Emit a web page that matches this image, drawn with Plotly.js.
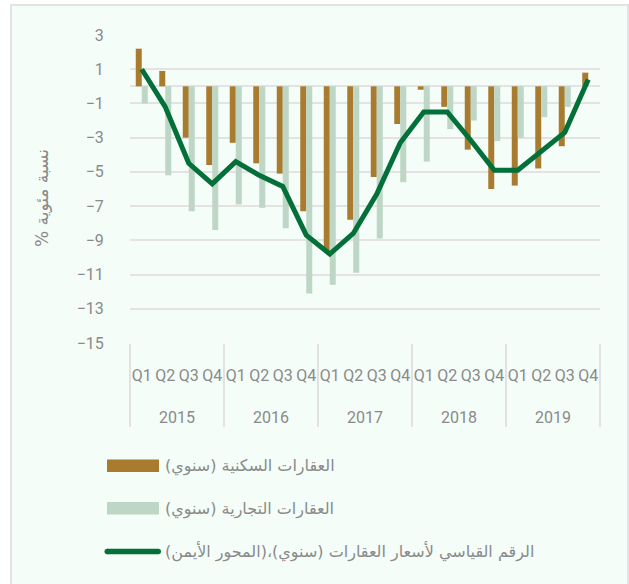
<!DOCTYPE html>
<html><head><meta charset="utf-8">
<script src="https://cdn.plot.ly/plotly-3.0.1.min.js"></script>
<style>html,body{margin:0;padding:0;background:#fff;}</style>
</head><body>
<div id="chart" style="width:629px;height:584px;"></div>
<script>
var years = ['2015','2015','2015','2015','2016','2016','2016','2016','2017','2017','2017','2017','2018','2018','2018','2018','2019','2019','2019','2019'];
var quarters = ['Q1','Q2','Q3','Q4','Q1','Q2','Q3','Q4','Q1','Q2','Q3','Q4','Q1','Q2','Q3','Q4','Q1','Q2','Q3','Q4'];
var residential = [2.2, 0.9, -3.0, -4.6, -3.3, -4.5, -5.1, -7.3, -9.6, -7.8, -5.3, -2.2, -0.2, -1.2, -3.7, -6.0, -5.8, -4.8, -3.5, 0.8];
var commercial = [-1.0, -5.2, -7.3, -8.4, -6.9, -7.1, -8.3, -12.1, -11.6, -10.9, -8.9, -5.6, -4.4, -2.5, -2.0, -3.2, -3.0, -1.8, -1.2, 0.0];
var priceIndex = [1.0, -1.2, -4.5, -5.7, -4.4, -5.2, -5.85, -8.7, -9.8, -8.6, -6.3, -3.3, -1.5, -1.5, -3.15, -4.9, -4.9, -3.8, -2.7, 0.4];
var legendLabels = ['العقارات السكنية (سنوي)', 'العقارات التجارية (سنوي)', 'الرقم القياسي لأسعار العقارات (سنوي)،(المحور الأيمن)'];
var yTitle = '% نسبة مئوية';

// quarter labels padded with empty lines so both label rows sit lower, as in the original
var quarterLabels = quarters.map(function(q){ return '\u00a0<br>' + q + '<br>\u00a0'; });

var L = 130, R = 600, T = 35, B = 343, W = 629, H = 584;
function px(x){ return (x - L) / (R - L); }
function py(y){ return (B - y) / (B - T); }

var brown = '#a87b2e', lightGreen = '#bdd6c5', darkGreen = '#03703a';
var gray = '#8a8a8a', grid = '#e4e2e2';
var font = 'Roboto, "DejaVu Sans", sans-serif';

var traces = [
  {type:'bar', name: legendLabels[0], x:[years, quarterLabels], y: residential, marker:{color: brown}},
  {type:'bar', name: legendLabels[1], x:[years, quarterLabels], y: commercial, marker:{color: lightGreen}},
  {type:'scatter', mode:'lines', name: legendLabels[2], x:[years, quarterLabels], y: priceIndex, line:{color: darkGreen, width: 5}}
];

var shapes = [
  {type:'rect', xref:'paper', yref:'paper', x0: px(11), x1: px(628), y0: py(5), y1: py(600), fillcolor:'#f4fdf7', line:{color:'#e3e3e3', width:2}, layer:'below'},
  {type:'rect', xref:'paper', yref:'paper', x0: px(107), x1: px(159), y0: py(459.5), y1: py(472), fillcolor: brown, line:{width:0}},
  {type:'rect', xref:'paper', yref:'paper', x0: px(107), x1: px(159), y0: py(502), y1: py(514.5), fillcolor: lightGreen, line:{width:0}},
  {type:'line', xref:'paper', yref:'paper', x0: px(107), x1: px(158), y0: py(551.5), y1: py(551.5), line:{color: darkGreen, width:5.5}},
  {type:'circle', xref:'paper', yref:'paper', x0: px(104.5), x1: px(110), y0: py(548.8), y1: py(554.3), fillcolor: darkGreen, line:{width:0}},
  {type:'circle', xref:'paper', yref:'paper', x0: px(155.5), x1: px(161), y0: py(548.8), y1: py(554.3), fillcolor: darkGreen, line:{width:0}}
];

var annFont = {family:'"DejaVu Sans", "Noto Sans", sans-serif', size:16, color: gray};
var annotations = [
  {xref:'paper', yref:'paper', x: px(163), y: py(466), xanchor:'left', yanchor:'middle', showarrow:false, text: legendLabels[0], font: annFont},
  {xref:'paper', yref:'paper', x: px(163), y: py(508.5), xanchor:'left', yanchor:'middle', showarrow:false, text: legendLabels[1], font: annFont},
  {xref:'paper', yref:'paper', x: px(163), y: py(551), xanchor:'left', yanchor:'middle', showarrow:false, text: legendLabels[2], font: annFont},
  {xref:'paper', yref:'paper', x: px(42), y: py(198), xanchor:'center', yanchor:'middle', showarrow:false, textangle:-90, text: yTitle, font: {family: annFont.family, size: 17, color: gray}}
];

var layout = {
  width: W, height: H,
  margin: {l: L, r: W - R, t: T, b: H - B, pad: 0},
  paper_bgcolor: '#ffffff',
  plot_bgcolor: 'rgba(0,0,0,0)',
  showlegend: false,
  barmode: 'group',
  bargap: 0.49,
  bargroupgap: 0,
  font: {family: font, color: gray, size: 16},
  xaxis: {
    type: 'multicategory',
    showgrid: false,
    showline: false,
    zeroline: false,
    tickangle: 0,
    ticks: '',
    tickfont: {family: font, size: 16, color: gray},
    showdividers: true, dividercolor: '#e3e1e1', dividerwidth: 2
  },
  yaxis: {
    range: [-15, 3],
    tick0: -15, dtick: 2,
    showgrid: true, gridcolor: grid, gridwidth: 2,
    zeroline: true, zerolinecolor: grid, zerolinewidth: 2,
    showline: false,
    ticks: 'outside', ticklen: 22, tickcolor: 'rgba(0,0,0,0)',
    tickfont: {family: font, size: 16, color: gray}
  },
  shapes: shapes,
  annotations: annotations
};

Plotly.newPlot('chart', traces, layout, {displayModeBar: false, staticPlot: true});
</script>
</body></html>
